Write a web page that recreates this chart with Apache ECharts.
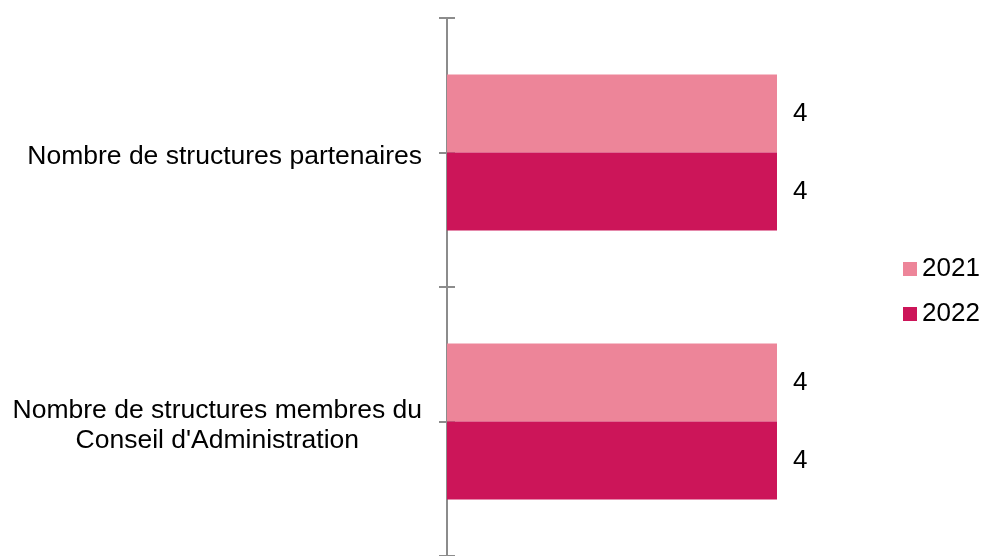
<!DOCTYPE html>
<html>
<head>
<meta charset="utf-8">
<script src="https://cdn.jsdelivr.net/npm/echarts@6/dist/echarts.min.js"></script>
<style>
  html, body { margin: 0; padding: 0; background: #fff; }
  #chart { width: 984px; height: 556px; }
</style>
</head>
<body>
<div id="chart"></div>
<script>
var categories = ['Nombre de structures partenaires', "Nombre de structures membres du\nConseil d'Administration"];
var values2021 = [4, 4];
var values2022 = [4, 4];

var myChart = echarts.init(document.getElementById('chart'));
var font = 'Liberation Sans, Arial, sans-serif';

// axe décoratif : traits qui croisent l'axe aux limites et au milieu des catégories
function tickAxis(inside, showLine) {
    return {
        type: 'value',
        position: 'left',
        min: 0,
        max: 4,
        interval: 1,
        inverse: true,
        axisLine: {show: showLine, lineStyle: {color: '#8c8c8c', width: 2}},
        axisTick: {show: true, inside: inside, length: 8, lineStyle: {color: '#8c8c8c', width: 2}},
        axisLabel: {show: false},
        splitLine: {show: false}
    };
}

var option = {
    animation: false,
    legend: {
        orient: 'vertical',
        left: 903,
        top: 256,
        padding: 0,
        itemWidth: 14,
        itemHeight: 14,
        itemGap: 19,
        icon: 'rect',
        textStyle: {fontFamily: font, fontSize: 26, color: '#000'},
        data: ['2021', '2022']
    },
    grid: {left: 447, top: 18, width: 330, height: 542},
    xAxis: {
        type: 'value',
        min: 0,
        max: 4,
        show: false
    },
    yAxis: [
        {
            type: 'category',
            data: categories,
            inverse: true,
            axisLine: {show: false},
            axisTick: {show: false},
            axisLabel: {
                margin: 25,
                padding: [8, 0, 0, 0],
                formatter: function (v) {
                    // lignes centrées entre elles, bloc aligné à droite
                    return v.split('\n').map(function (s) { return '{c|' + s + '}'; }).join('\n');
                },
                rich: {
                    c: {
                        align: 'center',
                        fontFamily: font,
                        fontSize: 26.5,
                        color: '#000',
                        lineHeight: 30
                    }
                },
                align: 'right'
            }
        },
        tickAxis(false, true),
        tickAxis(true, false)
    ],
    series: [
        {
            name: '2021',
            type: 'bar',
            data: values2021,
            barWidth: 78,
            barGap: '0%',
            itemStyle: {color: '#ED8599'},
            label: {show: true, position: 'right', distance: 16, fontFamily: font, fontSize: 26, color: '#000'}
        },
        {
            name: '2022',
            type: 'bar',
            data: values2022,
            barWidth: 78,
            barGap: '0%',
            itemStyle: {color: '#CC1559'},
            label: {show: true, position: 'right', distance: 16, fontFamily: font, fontSize: 26, color: '#000'}
        }
    ]
};
myChart.setOption(option);
</script>
</body>
</html>
